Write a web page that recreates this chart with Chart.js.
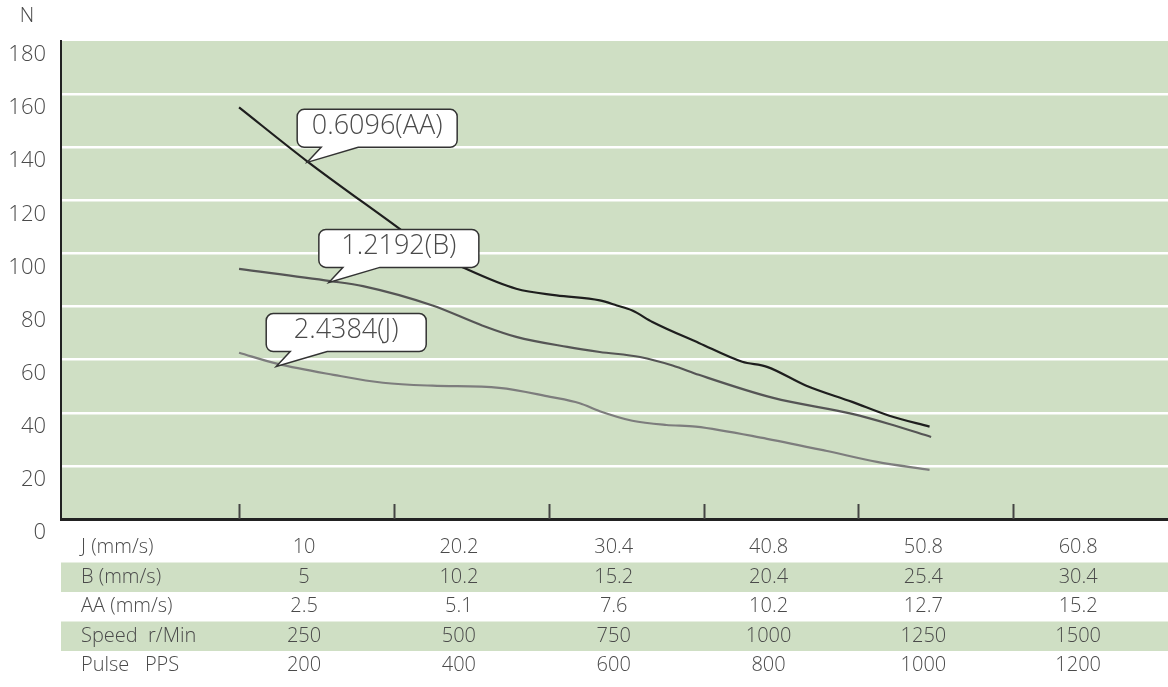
<!DOCTYPE html>
<html>
<head>
<meta charset="utf-8">
<script src="https://cdn.jsdelivr.net/npm/chart.js@4.4.1/dist/chart.umd.min.js"></script>
<style>
  html, body { margin: 0; padding: 0; background: #fff; overflow: hidden; }
  #thrustChart { display: block; }
</style>
</head>
<body>
<canvas id="thrustChart" width="1168" height="687"></canvas>
<script>
// curve readings: x in tick units (tick 1..6), y in N
const aaX = [1.0, 1.44, 2.02, 2.23, 2.44, 2.79, 3.05, 3.33, 3.44, 3.54, 3.67, 3.97, 4.25, 4.41, 4.66, 4.96, 5.2, 5.46];
const aaY = [155, 134.7, 110, 101, 94.9, 86.7, 84.2, 82.3, 80.4, 78.5, 74.2, 66.3, 59.2, 57.3, 50.3, 44.1, 38.9, 34.8];

const bX = [1.0, 1.59, 1.8, 2.25, 2.57, 2.79, 3.12, 3.33, 3.59, 3.8, 3.97, 4.45, 4.96, 5.2, 5.47];
const bY = [94.2, 89.6, 87.7, 80.4, 72.9, 68.6, 64.8, 62.9, 61, 57.8, 54.3, 45.6, 39.6, 35.8, 30.9];

const jX = [1.0, 1.25, 1.61, 1.93, 2.25, 2.68, 3.01, 3.2, 3.33, 3.54, 3.76, 3.95, 4.41, 4.79, 5.12, 5.46];
const jY = [62.6, 58.4, 54.3, 51.3, 50.2, 49.4, 46, 43.6, 40.6, 37, 35.4, 34.8, 30.2, 25.7, 21.5, 18.5];

const xTicks = [1, 2, 3, 4, 5, 6];
const yTicks = [0, 20, 40, 60, 80, 100, 120, 140, 160, 180];

// speed table under the axis
const rowLabels = ['J (mm/s)', 'B (mm/s)', 'AA (mm/s)', 'Speed  r/Min', 'Pulse   PPS'];
const jSpeed = ['10', '20.2', '30.4', '40.8', '50.8', '60.8'];
const bSpeed = ['5', '10.2', '15.2', '20.4', '25.4', '30.4'];
const aaSpeed = ['2.5', '5.1', '7.6', '10.2', '12.7', '15.2'];
const speedRpm = ['250', '500', '750', '1000', '1250', '1500'];
const pulsePps = ['200', '400', '600', '800', '1000', '1200'];

// callouts: text and the curve point the pointer touches
const calloutText = ['0.6096(AA)', '1.2192(B)', '2.4384(J)'];
const calloutX = [1.44, 1.58, 1.24];
const calloutY = [134.3, 89.1, 57.4];

const green = '#cfdfc4';
const textColor = '#4a4a4a';
const fontFam = "'Open Sans', 'Noto Sans', sans-serif";

function toPoints(xs, ys) {
    return xs.map((x, i) => ({ x: x, y: ys[i] }));
}

const decorPlugin = {
    id: 'decor',
    beforeDraw(chart) {
        let ctx = chart.ctx;
        let a = chart.chartArea;
        ctx.save();
        ctx.fillStyle = green;
        ctx.fillRect(a.left, a.top, a.right - a.left, a.bottom - a.top);
        // banded table rows
        let rowTop = a.bottom + 14, rowH = 29.5;
        [1, 3].forEach(i => {
            ctx.fillRect(a.left, rowTop + rowH * i, a.right - a.left, rowH);
        });
        ctx.restore();
    },
    afterDraw(chart) {
        let ctx = chart.ctx;
        let a = chart.chartArea;
        let xs = chart.scales.x, ys = chart.scales.y;
        ctx.save();

        // short tick marks standing on the x axis
        ctx.strokeStyle = '#444';
        ctx.lineWidth = 2;
        xTicks.forEach(t => {
            let px = Math.round(xs.getPixelForValue(t)) + 0.5;
            ctx.beginPath();
            ctx.moveTo(px, a.bottom);
            ctx.lineTo(px, a.bottom - 15);
            ctx.stroke();
        });

        // N unit
        ctx.fillStyle = textColor;
        ctx.font = '300 20px ' + fontFam;
        ctx.textAlign = 'center';
        ctx.textBaseline = 'middle';
        ctx.fillText('N', 27, 16);

        // table
        let rows = [jSpeed, bSpeed, aaSpeed, speedRpm, pulsePps];
        let rowTop = a.bottom + 14, rowH = 29.5;
        ctx.font = '300 20px ' + fontFam;
        rows.forEach((vals, i) => {
            let cy = rowTop + rowH * i + rowH / 2;
            ctx.textAlign = 'left';
            ctx.fillText(rowLabels[i], 81, cy);
            ctx.textAlign = 'center';
            vals.forEach((v, k) => {
                ctx.fillText(v, xs.getPixelForValue(xTicks[k] + 0.42), cy);
            });
        });

        // speech-bubble callouts
        ctx.font = '300 27px ' + fontFam;
        calloutText.forEach((txt, i) => {
            let tx = xs.getPixelForValue(calloutX[i]);
            let ty = ys.getPixelForValue(calloutY[i]);
            let l = tx - 10, t = ty - 53, w = 160, h = 38, r = 7;
            let b = t + h, rt = l + w;
            let b1 = tx + 14, b2 = tx + 51;
            ctx.beginPath();
            ctx.moveTo(l + r, t);
            ctx.lineTo(rt - r, t);
            ctx.arcTo(rt, t, rt, t + r, r);
            ctx.lineTo(rt, b - r);
            ctx.arcTo(rt, b, rt - r, b, r);
            ctx.lineTo(b2, b);
            ctx.lineTo(tx, ty);
            ctx.lineTo(b1, b);
            ctx.lineTo(l + r, b);
            ctx.arcTo(l, b, l, b - r, r);
            ctx.lineTo(l, t + r);
            ctx.arcTo(l, t, l + r, t, r);
            ctx.closePath();
            ctx.fillStyle = '#fff';
            ctx.fill();
            ctx.strokeStyle = '#333';
            ctx.lineWidth = 1.5;
            ctx.stroke();
            ctx.fillStyle = textColor;
            ctx.textAlign = 'center';
            ctx.textBaseline = 'middle';
            ctx.fillText(txt, l + w / 2, t + h / 2 - 2);
        });
        ctx.restore();
    }
};

let ctx = document.getElementById('thrustChart').getContext('2d');
new Chart(ctx, {
    type: 'line',
    data: {
        datasets: [
            { label: 'AA', data: toPoints(aaX, aaY), borderColor: '#1e1e1e', borderWidth: 2.2 },
            { label: 'B', data: toPoints(bX, bY), borderColor: '#555555', borderWidth: 2.2 },
            { label: 'J', data: toPoints(jX, jY), borderColor: '#7d7d7d', borderWidth: 2.2 }
        ]
    },
    options: {
        responsive: false,
        animation: false,
        devicePixelRatio: 1,
        elements: { point: { radius: 0 }, line: { cubicInterpolationMode: 'monotone' } },
        layout: { padding: { top: 41, right: 0, left: 0, bottom: 0 } },
        plugins: { legend: { display: false }, tooltip: { enabled: false } },
        scales: {
            x: {
                type: 'linear',
                min: -0.15,
                max: 7,
                ticks: { display: false },
                grid: { display: false },
                border: { display: true, color: '#222', width: 3 },
                afterFit(scale) { scale.height = 168; }
            },
            y: {
                min: 0,
                max: 180,
                afterBuildTicks(scale) { scale.ticks = yTicks.map(v => ({ value: v })); },
                ticks: {
                    color: textColor,
                    font: { family: fontFam, size: 22, weight: '300' },
                    padding: 15,
                    labelOffset: 14
                },
                grid: {
                    color: c => (c.tick && (c.tick.value === 0 || c.tick.value === 180)) ? 'rgba(0,0,0,0)' : '#ffffff',
                    lineWidth: 2.5,
                    drawTicks: false
                },
                border: { display: true, color: '#222', width: 2 },
                afterFit(scale) { scale.width = 61; }
            }
        }
    },
    plugins: [decorPlugin]
});
</script>
</body>
</html>
